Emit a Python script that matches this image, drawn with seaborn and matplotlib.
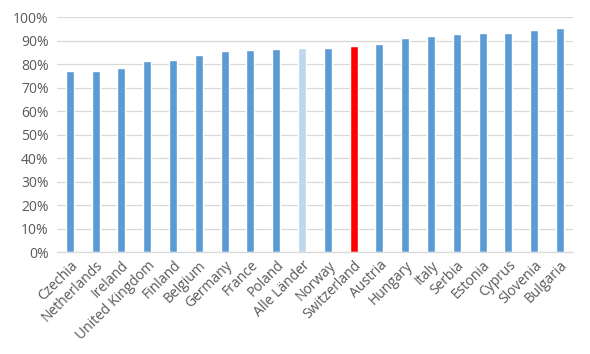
import matplotlib
matplotlib.use("Agg")
import matplotlib.pyplot as plt
import seaborn as sns
import pandas as pd
from matplotlib.ticker import PercentFormatter

countries = ["Czechia", "Netherlands", "Ireland", "United Kingdom", "Finland", "Belgium",
             "Germany", "France", "Poland", "Alle Länder", "Norway", "Switzerland",
             "Austria", "Hungary", "Italy", "Serbia", "Estonia", "Cyprus", "Slovenia", "Bulgaria"]
values = [77.0, 77.3, 78.3, 81.3, 82.0, 84.0, 85.6, 86.0, 86.7, 86.9, 86.9, 87.6,
          88.8, 91.1, 92.1, 92.8, 93.4, 93.4, 94.5, 95.3]
yticks = list(range(0, 101, 10))

blue = "#5B9BD5"
light = "#BDD7EE"
red = "#FF0000"
palette = {c: blue for c in countries}
palette["Alle Länder"] = light
palette["Switzerland"] = red

df = pd.DataFrame({"country": countries, "value": values})

sns.set_style("white")
plt.rcParams["font.family"] = ["Open Sans", "DejaVu Sans"]

fig = plt.figure(figsize=(5.9, 3.54), dpi=100)
ax = fig.add_axes([0.0966, 0.287, 0.8744, 0.664])
sns.barplot(data=df, x="country", y="value", hue="country", palette=palette,
            width=0.31, legend=False, ax=ax, saturation=1)

ax.set_ylim(0, 100)
ax.set_yticks(yticks)
ax.yaxis.set_major_formatter(PercentFormatter(decimals=0))
ax.set_xlim(-0.5, len(countries) - 0.5)
ax.grid(axis="y", color="#D9D9D9", linewidth=0.9)
ax.set_axisbelow(True)
for s in ["top", "right", "left"]:
    ax.spines[s].set_visible(False)
ax.spines["bottom"].set_color("#D9D9D9")
ax.spines["bottom"].set_linewidth(0.9)
ax.set_xlabel("")
ax.set_ylabel("")
ax.tick_params(axis="both", length=0, colors="#595959", labelsize=10)
ax.tick_params(axis="y", pad=6)
ax.set_xticks(range(len(countries)))
ax.set_xticklabels(countries, rotation=45, ha="right", rotation_mode="anchor", color="#595959")
ax.tick_params(axis="x", pad=4)

fig.savefig("out.png", dpi=100)
